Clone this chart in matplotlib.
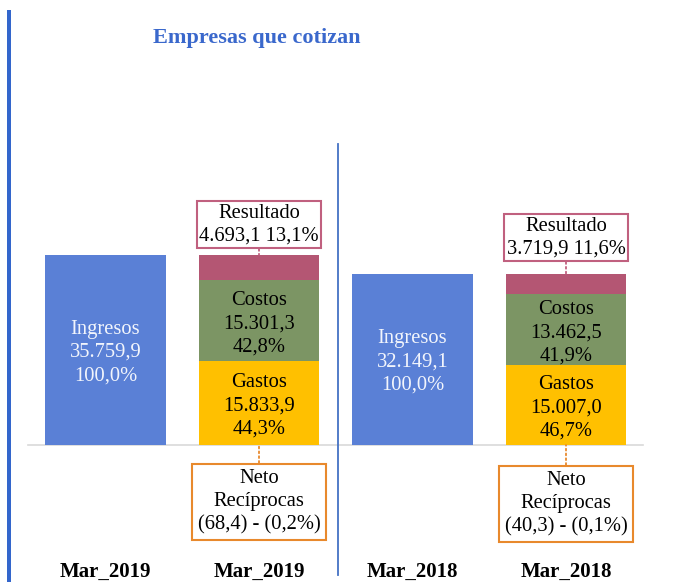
import matplotlib
matplotlib.use("Agg")
import matplotlib.pyplot as plt
from matplotlib.patches import Rectangle
from matplotlib.lines import Line2D

# ---- data ----
x_labels = ["Mar_2019", "Mar_2019", "Mar_2018", "Mar_2018"]
ingresos = [35759.9, 32149.1]
gastos = [15833.9, 15007.0]
costos = [15301.3, 13462.5]
resultado = [4693.1, 3719.9]
neto = [-68.4, -40.3]
ingresos_txt = ["Ingresos\n35.759,9\n100,0%", "Ingresos\n32.149,1\n100,0%"]
gastos_txt = ["Gastos\n15.833,9\n44,3%", "Gastos\n15.007,0\n46,7%"]
costos_txt = ["Costos\n15.301,3\n42,8%", "Costos\n13.462,5\n41,9%"]
resultado_txt = ["Resultado\n4.693,1 13,1%", "Resultado\n3.719,9 11,6%"]
neto_txt = ["Neto\nRecíprocas\n(68,4) - (0,2%)", "Neto\nRecíprocas\n(40,3) - (0,1%)"]

# ---- style ----
C_ING = "#5A80D6"
C_GAS = "#FFC000"
C_COS = "#7C9564"
C_RES = "#B45673"
C_RES_BOX = "#C0607F"
C_NET_BOX = "#E8892C"
C_TITLE = "#3A68CC"
SERIF = ["Liberation Serif", "DejaVu Serif"]

W, H, DPI = 675, 582, 100
fig = plt.figure(figsize=(W / DPI, H / DPI), dpi=DPI)
ax = fig.add_axes([0, 0, 1, 1])
ax.set_axis_off()

# scales: bar centers at ~105.5 px, spacing 153.5 px; baseline at y=445 px
spacing = 153.5
x0 = 105.5
ax.set_xlim(-x0 / spacing, (W - x0) / spacing)
ppv = 190.0 / ingresos[0]  # pixels per value
ax.set_ylim(-(H - 445) / ppv, 445 / ppv)

bw = 0.785
ing_pos = [0, 2]
stk_pos = [1, 3]

ax.bar(ing_pos, ingresos, width=bw, color=C_ING, zorder=2)
ax.bar(stk_pos, gastos, width=bw, color=C_GAS, zorder=2)
bot2 = [g for g in gastos]
ax.bar(stk_pos, costos, width=bw, bottom=bot2, color=C_COS, zorder=2)
bot3 = [g + c for g, c in zip(gastos, costos)]
ax.bar(stk_pos, resultado, width=bw, bottom=bot3, color=C_RES, zorder=2)
ax.bar(stk_pos, neto, width=bw, color=C_NET_BOX, zorder=2)

fs = 14.8
ls = 1.3
for i in range(2):
    ax.text(ing_pos[i], ingresos[i] / 2 - 2.5 / ppv, ingresos_txt[i], ha="center", va="center",
            color="#F2F5FC", fontsize=fs, family=SERIF, linespacing=ls, zorder=3)
    ax.text(stk_pos[i], gastos[i] / 2 - 3 / ppv, gastos_txt[i], ha="center", va="center",
            color="black", fontsize=fs, family=SERIF, linespacing=ls, zorder=3)
    ax.text(stk_pos[i], gastos[i] + costos[i] / 2 - 3.5 / ppv, costos_txt[i], ha="center", va="center",
            color="black", fontsize=fs, family=SERIF, linespacing=ls, zorder=3)

res_off = [6.5, 11]
net_off = [17.5, 19]
for i in range(2):
    top = gastos[i] + costos[i] + resultado[i]
    ax.annotate(resultado_txt[i], xy=(stk_pos[i], top), xytext=(0, res_off[i]),
                textcoords="offset points", ha="center", va="bottom",
                fontsize=fs, family=SERIF, linespacing=1.28, zorder=4,
                bbox=dict(boxstyle="square,pad=0.13", fc="white", ec=C_RES_BOX, lw=1.5),
                arrowprops=dict(arrowstyle="-", linestyle=":", color=C_RES_BOX, lw=1.3,
                                shrinkA=0, shrinkB=0))
    ax.annotate(neto_txt[i], xy=(stk_pos[i], 0), xytext=(0, -net_off[i]),
                textcoords="offset points", ha="center", va="top",
                fontsize=fs, family=SERIF, linespacing=1.28, zorder=4,
                bbox=dict(boxstyle="square,pad=0.28", fc="white", ec=C_NET_BOX, lw=1.5),
                arrowprops=dict(arrowstyle="-", linestyle=":", color=C_NET_BOX, lw=1.3,
                                shrinkA=0, shrinkB=0))

# baseline
ax.add_line(Line2D([28, 643], [H - 445, H - 445], transform=None, color="#D9D9D9", lw=1.2, zorder=1))
# category labels
for p, lab in enumerate(x_labels):
    ax.text(p, -(572 - 445) / ppv, lab, ha="center", va="center", fontsize=15,
            fontweight="bold", family=SERIF, color="black")

# divider line between years
fig.add_artist(Line2D([338 / W, 338 / W], [1 - 144 / H, 1 - 575 / H], color="#4472C4", lw=1.3))
# left blue accent bar
fig.add_artist(Rectangle((6.5 / W, 0), 4 / W, 1 - 10 / H, transform=fig.transFigure,
                         color="#3366CC", lw=0))

fig.text(257 / W, 1 - 38 / H, "Empresas que cotizan", ha="center", va="center",
         fontsize=16, fontweight="bold", family=SERIF, color=C_TITLE)

fig.savefig("out.png", dpi=DPI)
